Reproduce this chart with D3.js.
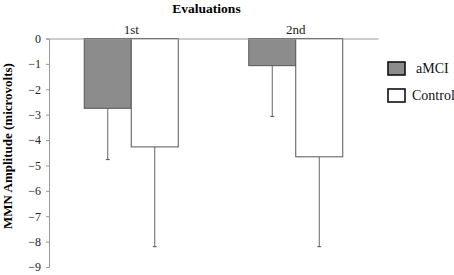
<!DOCTYPE html>
<html><head><meta charset="utf-8">
<script src="https://cdn.jsdelivr.net/npm/d3@7"></script>
<style>body{margin:0;background:#fff}svg{display:block}svg text{font-family:"Liberation Serif","Times New Roman","DejaVu Serif",serif !important}</style>
</head><body>
<svg id="c" width="454" height="275"></svg>
<script>
const categories = ["1st", "2nd"];
const seriesNames = ["aMCI", "Control"];
const aMCI = [-2.75, -1.07];
const control = [-4.27, -4.66];
const aMCIErr = [-4.77, -3.07];
const controlErr = [-8.2, -8.2];
const yTicks = [0, -1, -2, -3, -4, -5, -6, -7, -8, -9];
const colors = ["#8c8c8c", "#ffffff"];

(function () {
const svg = d3.select("#c");
const mLeft = 49, mRight = 378, mTop = 38.5, mBottom = 267;
const x = d3.scaleBand().domain(categories).range([mLeft, mRight]).paddingInner(0).paddingOuter(0);
const xs = d3.scaleBand().domain(seriesNames).range([0, x.bandwidth()]).paddingInner(0).paddingOuter(0.75);
const y = d3.scaleLinear().domain([0, -9]).range([mTop, mBottom]);

const data = [];
categories.forEach((c, i) => {
  data.push({c, s: "aMCI", v: aMCI[i], e: aMCIErr[i], col: colors[0]});
  data.push({c, s: "Control", v: control[i], e: controlErr[i], col: colors[1]});
});

const eb = svg.append("g");
data.forEach(d => {
  const cx = x(d.c) + xs(d.s) + xs.bandwidth() / 2;
  eb.append("line").attr("x1", cx).attr("x2", cx).attr("y1", y(d.v)).attr("y2", y(d.e))
    .attr("stroke", "#666").attr("stroke-width", 1);
  eb.append("line").attr("x1", cx - 2).attr("x2", cx + 2).attr("y1", y(d.e)).attr("y2", y(d.e))
    .attr("stroke", "#555").attr("stroke-width", 1);
});

svg.append("g").selectAll("rect").data(data).join("rect")
  .attr("x", d => x(d.c) + xs(d.s))
  .attr("y", y(0))
  .attr("width", xs.bandwidth())
  .attr("height", d => y(d.v) - y(0))
  .attr("fill", d => d.col)
  .attr("stroke", "#555").attr("stroke-width", 1);

const ya = svg.append("g").attr("transform", `translate(${mLeft},0)`)
  .call(d3.axisLeft(y).tickValues(yTicks).tickSize(3).tickPadding(5).tickFormat(d3.format("d")));
ya.select(".domain").attr("stroke", "#999");
ya.selectAll(".tick line").attr("stroke", "#999");
ya.selectAll("text").attr("font-size", 12).attr("fill", "#222");

const xa = svg.append("g").attr("transform", `translate(0,${mTop})`)
  .call(d3.axisTop(x).tickSize(0).tickPadding(5));
xa.select(".domain").attr("stroke", "#999");
xa.selectAll("text").attr("font-size", 13).attr("fill", "#222");

svg.append("text").attr("x", (mLeft + mRight) / 2 - 7).attr("y", 13).attr("text-anchor", "middle")
  .attr("font-size", 13.5).attr("font-weight", "bold").text("Evaluations");
svg.append("text").attr("transform", `translate(12,146) rotate(-90)`).attr("text-anchor", "middle")
  .attr("font-size", 13).attr("font-weight", "bold").text("MMN Amplitude (microvolts)");

const lg = svg.append("g");
seriesNames.forEach((s, i) => {
  const yy = 62 + i * 27;
  lg.append("rect").attr("x", 388).attr("y", yy).attr("width", 17).attr("height", 13)
    .attr("fill", colors[i]).attr("stroke", "#111").attr("stroke-width", 1.6);
  lg.append("text").attr("x", i === 0 ? 416 : 412).attr("y", yy + 11).attr("font-size", 14).attr("fill", "#111").text(s);
});
})();
</script>
</body></html>
